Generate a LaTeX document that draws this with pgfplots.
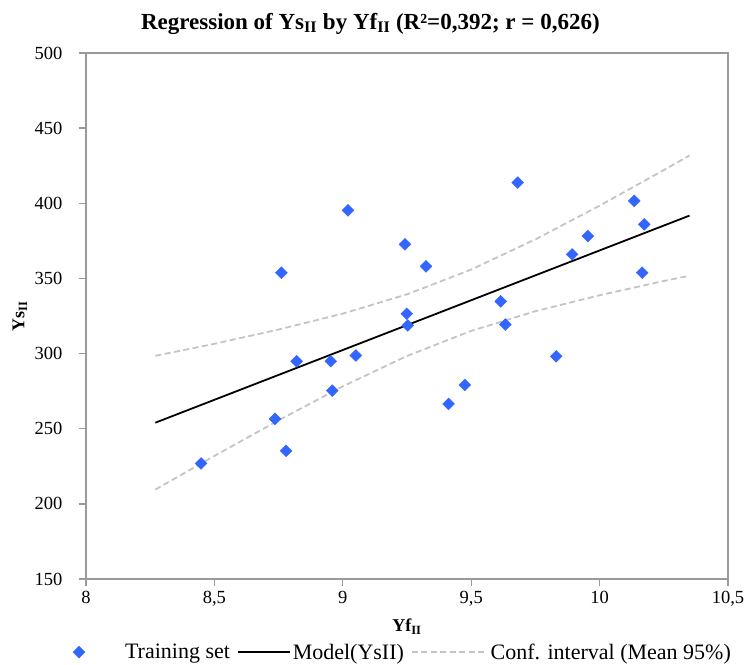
\documentclass[border=0pt]{standalone}
\usepackage{fontspec}
\setmainfont{Liberation Serif}
\usepackage{pgfplots}
\pgfplotsset{compat=1.18}
\definecolor{ptblue}{HTML}{3366FF}
\definecolor{framegray}{HTML}{9A9A9A}
\definecolor{dashgray}{HTML}{C4C4C4}
\pgfplotsset{
  shortline/.style={legend image code/.code={\draw[##1] (0pt,0pt) -- (52pt,0pt);}},
  longline/.style={legend image code/.code={\draw[##1] (0pt,0pt) -- (76pt,0pt);}},
}
\begin{document}
\begin{tikzpicture}[x=1pt,y=1pt]
\useasboundingbox (0,0) rectangle (749,664);
\begin{axis}[
  at={(86pt,85pt)}, anchor=south west,
  scale only axis, width=642pt, height=526pt,
  xmin=8, xmax=10.5, ymin=150, ymax=500,
  xtick={8,8.5,9,9.5,10,10.5},
  ytick={150,200,250,300,350,400,450,500},
  xtick pos=lower, ytick pos=left,
  tick align=outside, major tick length=7pt,
  axis line style={framegray, line width=1.6pt},
  tick style={framegray, line width=1.3pt},
  ticklabel style={font=\fontsize{18.5}{21}\selectfont},
  xticklabel style={yshift=-2pt},
  yticklabel style={xshift=-13pt},
  title={\textbf{Regression of Ys\textsubscript{II} by Yf\textsubscript{II} (R²=0,392; r = 0,626)}},
  title style={at={(0.443,1.034)}, anchor=base, font=\fontsize{23}{25}\selectfont},
  xlabel={\textbf{Yf\textsubscript{II}}},
  xlabel style={at={(0.5,-0.100)}, anchor=base, font=\fontsize{18}{20}\selectfont},
  ylabel={\textbf{Ys\textsubscript{II}}},
  ylabel style={at={(-0.103,0.5)}, anchor=center, font=\fontsize{18}{20}\selectfont},
  legend columns=3,
  legend style={at={(-0.025,-0.139)}, anchor=west, draw=none, fill=none,
    font=\fontsize{22}{24}\selectfont,
    /tikz/every even column/.append style={column sep=5pt}},
  legend cell align=left,
  /pgf/number format/use comma,
  /pgf/number format/assume math mode=true,
]
\addplot[only marks, mark=square*, mark size=4.2pt, color=ptblue,
  mark options={rotate=45, rounded corners=1.5pt}] coordinates {
(8.448,226.9) (8.736,256.5) (8.779,235.3) (8.761,353.8) (8.820,294.9)
(8.953,294.9) (8.959,275.3) (9.051,298.7) (9.020,395.3) (9.242,372.7)
(9.324,358.0) (9.249,326.5) (9.253,318.7) (9.681,413.8) (10.135,401.6)
(10.174,386.0) (9.954,378.2) (9.893,366.0) (10.166,353.8) (9.615,334.7)
(9.633,319.3) (9.831,298.2) (9.475,279.1) (9.412,266.5)
};
\addlegendentry{\hspace*{38pt}Training set}
\addplot[black, line width=1.8pt, mark=none, shortline] coordinates {
(8.27,254.0) (10.35,391.8)
};
\addlegendentry{Model(YsII)}
\addplot[dashgray, line width=1.8pt, dash pattern=on 6pt off 3.5pt, mark=none, longline] coordinates {
(8.27,298.5) (8.50,306.5) (8.75,316.0) (9.00,326.6) (9.25,339.4)
(9.50,355.9) (9.75,376.0) (10.00,398.4) (10.25,422.1) (10.35,431.8)
};
\addlegendentry{Conf. interval (Mean 95\%)}
\addplot[dashgray, line width=1.8pt, dash pattern=on 6pt off 3.5pt, mark=none, forget plot] coordinates {
(8.27,209.5) (8.50,231.9) (8.75,255.6) (9.00,278.2) (9.25,298.4)
(9.50,315.1) (9.75,328.2) (10.00,338.8) (10.25,348.3) (10.35,351.8)
};
\end{axis}
\end{tikzpicture}
\end{document}
